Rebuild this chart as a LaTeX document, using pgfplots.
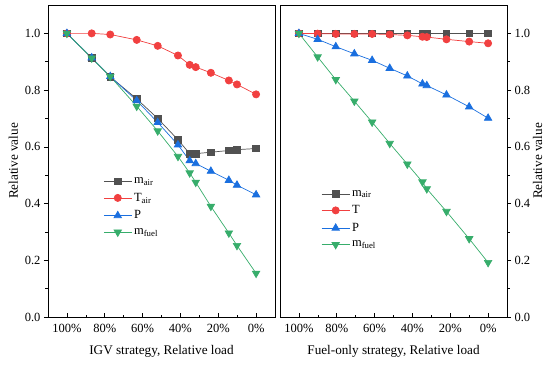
\documentclass[border=0pt]{standalone}
\usepackage{pgfplots}
\pgfplotsset{compat=1.18}
\usepackage{fontspec}
\setmainfont{Liberation Serif}
\definecolor{cblk}{HTML}{515151}
\definecolor{cred}{HTML}{F14040}
\definecolor{cblu}{HTML}{1A6FDF}
\definecolor{cgrn}{HTML}{37AD6B}
\pgfplotsset{
  common/.style={
    scale only axis, width=227pt, height=312pt,
    xmin=-10, xmax=110, x dir=reverse,
    ymin=0, ymax=1.1,
    xtick={0,20,40,60,80,100},
    xticklabels={0\%,20\%,40\%,60\%,80\%,100\%},
    minor x tick num=1,
    ytick={0,0.2,0.4,0.6,0.8,1.0},
    minor y tick num=1,
    yticklabel style={/pgf/number format/.cd, fixed, fixed zerofill, precision=1, assume math mode=true},
    tick label style={font=\fontsize{12.5}{12.5}\selectfont},
    label style={font=\fontsize{13.2}{13.2}\selectfont},
    xtick pos=bottom,
    x tick style={black, line width=0.6pt},
    y tick style={black, line width=0.6pt},
    major tick length=4pt, minor tick length=2.5pt,
    axis line style={line width=0.8pt},
    every axis plot/.append style={line width=0.7pt},
    legend style={draw=none, fill=none, font=\fontsize{12.5}{12.5}\selectfont, row sep=4pt, cells={anchor=west}},
    legend image code/.code={\draw[mark repeat=2,mark phase=2] plot coordinates {(0pt,0pt) (14pt,0pt) (28pt,0pt)};},
    xlabel shift=5pt,
  },
  sA/.style={color=cblk, mark=square*, mark size=3.3pt},
  sB/.style={color=cred, mark=*, mark size=3.6pt},
  sC/.style={color=cblu, mark=triangle*, mark size=4.3pt},
  sD/.style={color=cgrn, mark=triangle*, mark options={rotate=180}, mark size=4.3pt},
}
\begin{document}
\begin{tikzpicture}
\path (-48pt,-48pt) rectangle (500pt,317pt);
\begin{axis}[common,
  at={(0pt,0pt)}, anchor=south west,
  ytick pos=left, yticklabel pos=left,
  tick align=outside,
  x tick style={/pgfplots/tick align=inside},
  xlabel={IGV strategy, Relative load},
  ylabel={Relative value},
  legend style={at={(0.23,0.46)}, anchor=north west},
]
\addplot[sA] coordinates {(100,1.0) (86.9,0.913) (77.1,0.847) (63.1,0.769) (52.0,0.700) (41.3,0.625) (35.1,0.576) (31.9,0.576) (23.9,0.581) (14.4,0.587) (10.1,0.590) (0,0.594)};
\addlegendentry{m\textsubscript{air}}
\addplot[sB] coordinates {(100,1.0) (86.9,1.0) (77.1,0.996) (63.1,0.977) (52.0,0.956) (41.3,0.922) (35.1,0.889) (31.9,0.881) (23.9,0.861) (14.4,0.834) (10.1,0.820) (0,0.785)};
\addlegendentry{T\textsubscript{air}}
\addplot[sC] coordinates {(100,1.0) (86.9,0.914) (77.1,0.848) (63.1,0.763) (52.0,0.686) (41.3,0.607) (35.1,0.551) (31.9,0.541) (23.9,0.514) (14.4,0.482) (10.1,0.465) (0,0.431)};
\addlegendentry{P}
\addplot[sD] coordinates {(100,1.0) (86.9,0.913) (77.1,0.848) (63.1,0.743) (52.0,0.656) (41.3,0.566) (35.1,0.508) (31.9,0.475) (23.9,0.390) (14.4,0.296) (10.1,0.252) (0,0.154)};
\addlegendentry{m\textsubscript{fuel}}
\end{axis}
\begin{axis}[common,
  at={(232pt,0pt)}, anchor=south west,
  ytick pos=right, yticklabel pos=right,
  tick align=outside,
  x tick style={/pgfplots/tick align=inside},
  xlabel={Fuel-only strategy, Relative load},
  ylabel={Relative value},
  ylabel shift=-4pt,
  legend style={at={(0.168,0.42)}, anchor=north west},
]
\addplot[sA] coordinates {(100,1.0) (90.1,1.0) (80.5,1.0) (70.7,1.0) (61.3,1.0) (52.0,1.0) (42.7,1.0) (34.7,1.0) (32.4,1.0) (22.0,1.0) (10.0,1.0) (0,1.0)};
\addlegendentry{m\textsubscript{air}}
\addplot[sB] coordinates {(100,1.0) (90.1,0.999) (80.5,0.998) (70.7,0.998) (61.3,0.998) (52.0,0.996) (42.7,0.993) (34.7,0.988) (32.4,0.987) (22.0,0.979) (10.0,0.971) (0,0.965)};
\addlegendentry{T}
\addplot[sC] coordinates {(100,1.0) (90.1,0.979) (80.5,0.953) (70.7,0.928) (61.3,0.905) (52.0,0.877) (42.7,0.850) (34.7,0.822) (32.4,0.816) (22.0,0.783) (10.0,0.741) (0,0.701)};
\addlegendentry{P}
\addplot[sD] coordinates {(100,1.0) (90.1,0.917) (80.5,0.837) (70.7,0.761) (61.3,0.687) (52.0,0.612) (42.7,0.539) (34.7,0.476) (32.4,0.452) (22.0,0.372) (10.0,0.276) (0,0.192)};
\addlegendentry{m\textsubscript{fuel}}
\end{axis}
\end{tikzpicture}
\end{document}
